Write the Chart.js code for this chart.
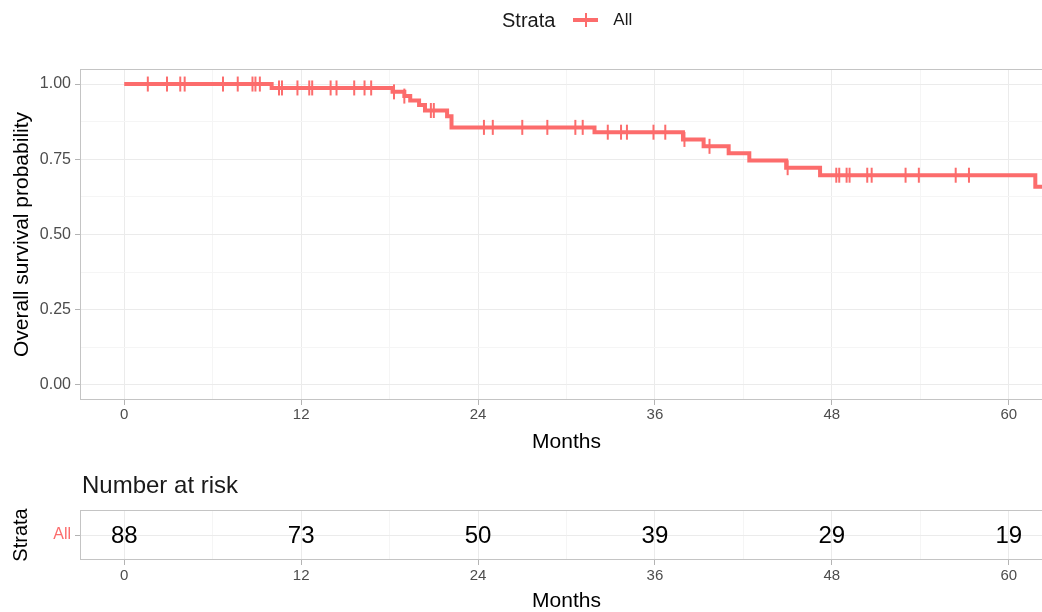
<!DOCTYPE html>
<html>
<head>
<meta charset="utf-8">
<script src="https://cdn.jsdelivr.net/npm/chart.js@4.4.1/dist/chart.umd.min.js"></script>
<style>
  html, body { margin: 0; padding: 0; background: #ffffff; }
  #wrap { position: relative; width: 1042px; height: 612px; overflow: hidden;
          font-family: "Liberation Sans", Arial, sans-serif; color: #1a1a1a; }
  #km { position: absolute; left: 0; top: 0; }
  #risk { position: absolute; left: 0; top: 460px; }
  #legend { position: absolute; left: 502px; top: 8px; height: 24px; display: flex; align-items: center; }
  #legend .title { font-size: 20px; margin-right: 18px; }
  #legend .sym { position: relative; width: 25px; height: 24px; margin-right: 15px; }
  #legend .sym .h { position: absolute; left: 0; top: 10px; width: 25px; height: 4px; }
  #legend .sym .v { position: absolute; left: 11.5px; top: 5px; width: 2px; height: 14px; }
  #legend .label { font-size: 17px; }
  #riskTitle { position: absolute; left: 82px; top: 470px; font-size: 24px; line-height: 30px; }
</style>
</head>
<body>
<div id="wrap">
  <canvas id="km" width="1053" height="455"></canvas>
  <canvas id="risk" width="1053" height="152"></canvas>
  <div id="legend"><span class="title">Strata</span><span class="sym"><i class="h"></i><i class="v"></i></span><span class="label">All</span></div>
  <div id="riskTitle">Number at risk</div>
</div>
<script>
// ---- survival data (months, Kaplan-Meier estimate) ----
const strataLabels = ['All'];
const strataColor = '#FC6C6C';

// step points: time of each event and the survival level after it
const eventTimes = [0, 10.0, 18.2, 19.0, 19.4, 20.0, 20.4, 21.9, 22.2, 31.9, 37.9, 39.3, 41.0, 42.4, 44.9, 47.2, 61.8, 63.0];
const survival   = [1.000, 0.987, 0.974, 0.960, 0.945, 0.930, 0.912, 0.893, 0.856, 0.840, 0.816, 0.793, 0.770, 0.746, 0.722, 0.697, 0.659, 0.659];

// censoring times
const censorTimes = [1.6, 2.9, 3.8, 4.1, 6.7, 7.7, 8.7, 8.9, 9.2,
                     10.5, 10.7, 11.75, 12.55, 12.75, 14.0, 14.4, 15.6, 16.3, 16.75,
                     18.3, 19.0, 20.8, 21.0,
                     24.4, 25.0, 27.0, 28.7, 30.6, 31.1,
                     32.8, 33.7, 34.1, 35.9, 36.7, 38.0, 39.7, 45.0,
                     48.3, 48.5, 49.0, 49.2, 50.4, 50.7, 53.0, 53.9, 56.4, 57.3];

// number at risk table
const riskTimes  = [0, 12, 24, 36, 48, 60];
const riskCounts = [88, 73, 50, 39, 29, 19];

// axis ticks
const monthTicks = [0, 12, 24, 36, 48, 60];
const monthMinor = [6, 18, 30, 42, 54];
const probTicks  = [0, 0.25, 0.5, 0.75, 1];
const probMinor  = [0.125, 0.375, 0.625, 0.875];

// ---- helpers ----
function survAt(t) {
  let s = survival[0];
  for (let i = 0; i < eventTimes.length; i++) {
    if (eventTimes[i] <= t) s = survival[i];
  }
  return s;
}
const FONT = '"Liberation Sans", Arial, sans-serif';
const GRID_MAJOR = '#EBEBEB', GRID_MINOR = '#F5F5F5', TICK_COL = '#B3B3B3', BORDER_COL = '#C4C4C4';
const TEXT_AXIS = '#4D4D4D';
const X_MIN = -3, X_MAX = 63;

function ticksFrom(major, minor) {
  return scale => {
    scale.ticks = major.concat(minor).sort((a, b) => a - b).map(v => ({ value: v }));
  };
}
function gridOpts(major) {
  const isMajor = v => major.includes(v);
  return {
    color: c => (c.tick && isMajor(c.tick.value)) ? GRID_MAJOR : GRID_MINOR,
    lineWidth: 1,
    tickColor: c => (c.tick && isMajor(c.tick.value)) ? TICK_COL : 'rgba(0,0,0,0)',
    tickLength: 5,
    drawTicks: true
  };
}

// frame around the plotting panel
const panelBorder = {
  id: 'panelBorder',
  afterDraw(chart) {
    const a = chart.chartArea, ctx = chart.ctx;
    ctx.save();
    ctx.strokeStyle = BORDER_COL;
    ctx.lineWidth = 1;
    ctx.strokeRect(a.left + 0.5, a.top + 0.5, a.right - a.left - 1, a.bottom - a.top - 1);
    ctx.restore();
  }
};

// survival curve
new Chart(document.getElementById('km'), {
  type: 'scatter',
  data: {
    datasets: [
      {
        label: 'censor',
        data: censorTimes.map(t => ({ x: t, y: survAt(t) })),
        showLine: false,
        pointStyle: 'line',
        rotation: 90,
        pointRadius: 7.5,
        pointHoverRadius: 7.5,
        borderColor: strataColor,
        pointBorderWidth: 2,
        order: 0
      },
      {
        label: strataLabels[0],
        data: eventTimes.map((t, i) => ({ x: t, y: survival[i] })),
        showLine: true,
        stepped: 'before',
        borderColor: strataColor,
        borderWidth: 4,
        pointRadius: 0,
        pointHoverRadius: 0,
        order: 1
      }
    ]
  },
  options: {
    responsive: false,
    animation: false,
    events: [],
    layout: { autoPadding: false, padding: { top: 69, left: 0, right: 0, bottom: 0 } },
    plugins: { legend: { display: false }, tooltip: { enabled: false } },
    scales: {
      x: {
        type: 'linear', min: X_MIN, max: X_MAX,
        afterBuildTicks: ticksFrom(monthTicks, monthMinor),
        afterFit: s => { s.height = 55; },
        grid: gridOpts(monthTicks),
        border: { display: false },
        ticks: {
          autoSkip: false, maxRotation: 0, padding: 1,
          color: TEXT_AXIS, font: { family: FONT, size: 15 },
          callback: v => monthTicks.includes(v) ? String(v) : ''
        },
        title: { display: true, text: 'Months', color: '#000', font: { family: FONT, size: 21 }, padding: { top: 0, bottom: 0 } }
      },
      y: {
        type: 'linear', min: -0.05, max: 1.05,
        afterBuildTicks: ticksFrom(probTicks, probMinor),
        afterFit: s => { s.width = 80; },
        grid: gridOpts(probTicks),
        border: { display: false },
        ticks: {
          autoSkip: false, padding: 4,
          color: TEXT_AXIS, font: { family: FONT, size: 16 },
          callback: v => probTicks.includes(v) ? v.toFixed(2) : ''
        },
        title: { display: true, text: 'Overall survival probability', color: '#000', font: { family: FONT, size: 21 }, padding: { top: 10, bottom: 0 } }
      }
    }
  },
  plugins: [panelBorder]
});

// numbers at risk written at their time positions
const riskLabels = {
  id: 'riskLabels',
  afterDatasetsDraw(chart) {
    const meta = chart.getDatasetMeta(0), ctx = chart.ctx;
    ctx.save();
    ctx.fillStyle = '#000';
    ctx.font = '24px ' + FONT;
    ctx.textAlign = 'center';
    ctx.textBaseline = 'middle';
    meta.data.forEach((el, i) => ctx.fillText(String(riskCounts[i]), el.x, el.y + 1));
    ctx.restore();
  }
};

new Chart(document.getElementById('risk'), {
  type: 'scatter',
  data: {
    labels: strataLabels,
    datasets: [{
      label: 'at risk',
      data: riskTimes.map(t => ({ x: t, y: strataLabels[0] })),
      pointRadius: 0,
      pointHoverRadius: 0,
      showLine: false
    }]
  },
  options: {
    responsive: false,
    animation: false,
    events: [],
    layout: { autoPadding: false, padding: { top: 50, left: 0, right: 0, bottom: 0 } },
    plugins: { legend: { display: false }, tooltip: { enabled: false } },
    scales: {
      x: {
        type: 'linear', min: X_MIN, max: X_MAX,
        afterBuildTicks: ticksFrom(monthTicks, monthMinor),
        afterFit: s => { s.height = 52; },
        grid: gridOpts(monthTicks),
        border: { display: false },
        ticks: {
          autoSkip: false, maxRotation: 0, padding: 2,
          color: TEXT_AXIS, font: { family: FONT, size: 15 },
          callback: v => monthTicks.includes(v) ? String(v) : ''
        },
        title: { display: true, text: 'Months', color: '#000', font: { family: FONT, size: 21 }, padding: { top: 0, bottom: -2 } }
      },
      y: {
        type: 'category', labels: strataLabels, offset: true,
        afterFit: s => { s.width = 80; },
        grid: { offset: false, color: GRID_MAJOR, tickColor: TICK_COL, tickLength: 5 },
        border: { display: false },
        ticks: { padding: 4, color: strataColor, font: { family: FONT, size: 16 } },
        title: { display: true, text: 'Strata', color: '#000', font: { family: FONT, size: 20 }, padding: { top: 9, bottom: 0 } }
      }
    }
  },
  plugins: [panelBorder, riskLabels]
});

// legend swatch colour
document.querySelectorAll('#legend .sym i').forEach(el => { el.style.background = strataColor; });
</script>
</body>
</html>
